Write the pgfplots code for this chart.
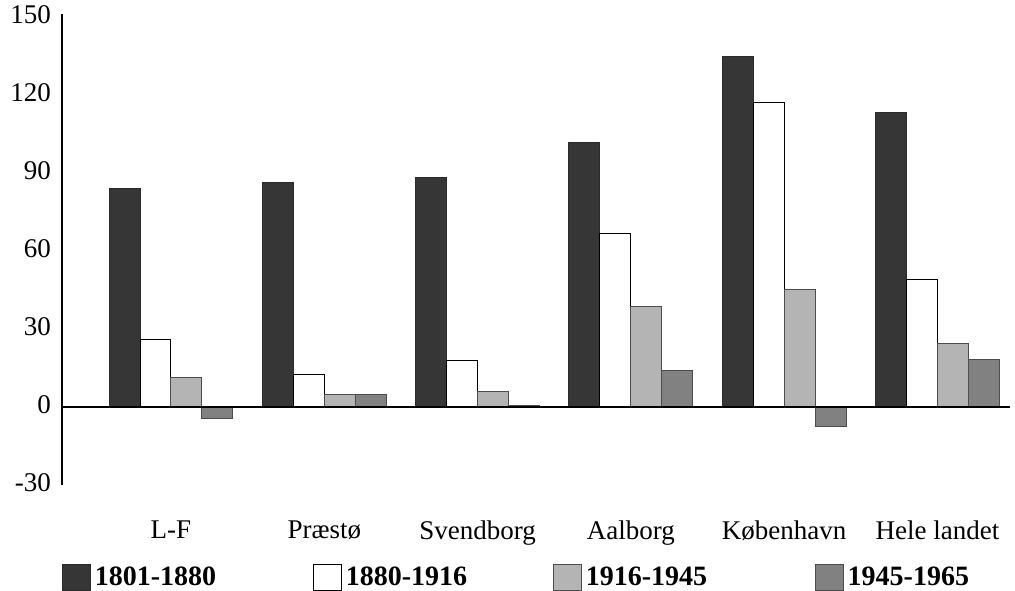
\documentclass[border=0pt]{standalone}
\usepackage{pgfplots}
\pgfplotsset{compat=1.18}
\usepackage{fontspec}
\setmainfont{Liberation Serif}
\definecolor{cA}{HTML}{363636}
\definecolor{cC}{HTML}{B4B4B4}
\definecolor{cD}{HTML}{818181}
\begin{document}
\begin{tikzpicture}
\begin{axis}[
  scale only axis=true,
  width=474pt, height=235.5pt,
  xmin=-0.711, xmax=5.473,
  ymin=-30, ymax=151,
  axis y line*=left,
  axis x line*=bottom,
  x axis line style={draw=none},
  y axis line style={-, line width=1pt},
  ytick={-30,0,30,60,90,120,150},
  ytick style={draw=none},
  xtick style={draw=none},
  xtick={0,1,2,3,4,5},
  xticklabels={L-F,Præstø,Svendborg,Aalborg,København,Hele landet},
  tick label style={font=\fontsize{13.5}{16}\selectfont},
  /pgf/number format/assume math mode=true,
  yticklabel style={xshift=-2pt, yshift=1pt},
  xticklabel style={yshift=-10pt},
  ybar=0pt,
  bar width=0.202,
  legend columns=4,
  legend style={at={(rel axis cs:0,0)}, anchor=north west, yshift=-39pt,
    draw=none, inner sep=0pt,
    font=\fontsize{14}{16}\selectfont\bfseries,
    nodes={inner sep=1.75pt},
    /tikz/column 2/.style={column sep=46.8pt},
    /tikz/column 4/.style={column sep=41.3pt},
    /tikz/column 6/.style={column sep=52.3pt}},
  legend image code/.code={\draw[#1] (0pt,-6.5pt) rectangle (14pt,6.5pt);},
]
\addplot[fill=cA, draw=cA!80!black, line width=0.5pt] coordinates {(0,84.1) (1,86.4) (2,88) (3,101.8) (4,134.5) (5,113)};
\addplot[fill=white, draw=black, line width=0.5pt] coordinates {(0,26) (1,12.4) (2,17.8) (3,66.7) (4,117) (5,49)};
\addplot[fill=cC, draw=black!70, line width=0.5pt] coordinates {(0,11.2) (1,4.7) (2,5.8) (3,38.6) (4,45) (5,24.3)};
\addplot[fill=cD, draw=black!70, line width=0.5pt] coordinates {(0,-4.3) (1,4.7) (2,0.5) (3,14) (4,-7.5) (5,18.1)};
\legend{1801-1880,1880-1916,1916-1945,1945-1965}
\draw[black, line width=1pt] (axis cs:-0.711,0) -- (axis cs:5.473,0);
\end{axis}
\pgfresetboundingbox
\path ([xshift=-31pt, yshift=-52.5pt]current axis.south west) rectangle ([xshift=2.5pt, yshift=7pt]current axis.north east);
\end{tikzpicture}
\end{document}
